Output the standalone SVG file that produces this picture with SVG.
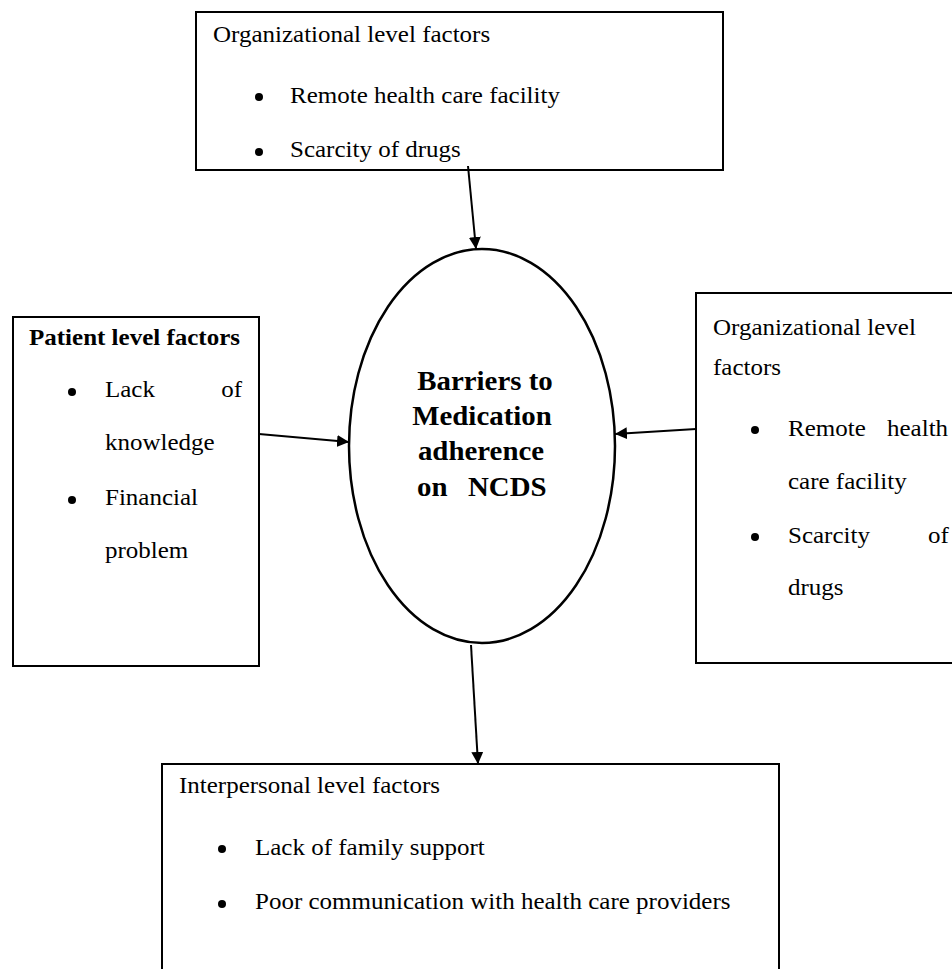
<svg xmlns="http://www.w3.org/2000/svg" width="952" height="969" viewBox="0 0 952 969">
<style>
  text { font-family: "Liberation Serif", "Times New Roman", serif; font-size: 23px; fill: #000; }
  .b { font-weight: bold; }
  .c { font-size: 26.5px; font-weight: bold; text-anchor: middle; }
  .e { text-anchor: end; }
  .box { fill: #fff; stroke: #000; stroke-width: 2; }
  .dot { fill: #000; }
  .arr { stroke: #000; stroke-width: 2; fill: none; marker-end: url(#ah); }
</style>
<defs>
  <marker id="ah" markerUnits="userSpaceOnUse" markerWidth="13" markerHeight="13" refX="12" refY="6" orient="auto">
    <path d="M0,0 L12,6 L0,12 z" fill="#000"/>
  </marker>
</defs>
<rect width="952" height="969" fill="#fff"/>

<g id="top-org">
  <rect class="box" x="196" y="12" width="527" height="158"/>
  <text transform="translate(213 42) scale(1.087 1)">Organizational level factors</text>
  <circle class="dot" cx="259" cy="97" r="4"/>
  <text transform="translate(290 103) scale(1.087 1)">Remote health care facility</text>
  <circle class="dot" cx="259" cy="152" r="4"/>
  <text transform="translate(290 157) scale(1.087 1)">Scarcity of drugs</text>
</g>

<g id="patient">
  <rect class="box" x="13" y="317" width="246" height="349"/>
  <text class="b" transform="translate(29 345) scale(1.087 1)">Patient level factors</text>
  <circle class="dot" cx="72" cy="392" r="4"/>
  <text transform="translate(105 397) scale(1.087 1)">Lack</text>
  <text class="e" transform="translate(242 397) scale(1.087 1)">of</text>
  <text transform="translate(105 450) scale(1.087 1)">knowledge</text>
  <circle class="dot" cx="72" cy="500" r="4"/>
  <text transform="translate(105 505) scale(1.087 1)">Financial</text>
  <text transform="translate(105 558) scale(1.087 1)">problem</text>
</g>

<g id="right-org">
  <rect class="box" x="696" y="293" width="270" height="370"/>
  <text transform="translate(713 335) scale(1.087 1)">Organizational level</text>
  <text transform="translate(713 375) scale(1.087 1)">factors</text>
  <circle class="dot" cx="755" cy="430" r="4"/>
  <text transform="translate(788 436) scale(1.087 1)">Remote</text>
  <text transform="translate(887 436) scale(1.087 1)">health</text>
  <text transform="translate(788 489) scale(1.087 1)">care facility</text>
  <circle class="dot" cx="755" cy="537" r="4"/>
  <text transform="translate(788 543) scale(1.087 1)">Scarcity</text>
  <text transform="translate(928 543) scale(1.087 1)">of</text>
  <text transform="translate(788 595) scale(1.087 1)">drugs</text>
</g>

<g id="center">
  <ellipse cx="482" cy="446" rx="133" ry="197" fill="#fff" stroke="#000" stroke-width="2.5"/>
  <text class="c" transform="translate(485 390) scale(1.09 1)">Barriers to</text>
  <text class="c" transform="translate(482 425) scale(1.09 1)">Medication</text>
  <text class="c" transform="translate(481 460) scale(1.09 1)">adherence</text>
  <text class="c" transform="translate(417 496) scale(1.09 1)" style="text-anchor:start">on</text>
  <text class="c" transform="translate(468 496) scale(1.09 1)" style="text-anchor:start">NCDS</text>
</g>

<g id="interpersonal">
  <rect class="box" x="162" y="764" width="617" height="230"/>
  <text transform="translate(179 793) scale(1.087 1)">Interpersonal level factors</text>
  <circle class="dot" cx="222" cy="849" r="4"/>
  <text transform="translate(255 855) scale(1.087 1)">Lack of family support</text>
  <circle class="dot" cx="222" cy="904" r="4"/>
  <text transform="translate(255 909) scale(1.087 1)">Poor communication with health care providers</text>
</g>

<g id="connectors">
  <line class="arr" x1="468" y1="166" x2="476" y2="249"/>
  <line class="arr" x1="259" y1="434" x2="349" y2="442"/>
  <line class="arr" x1="696" y1="429" x2="615" y2="434"/>
  <line class="arr" x1="471" y1="645" x2="478" y2="764"/>
</g>
</svg>
